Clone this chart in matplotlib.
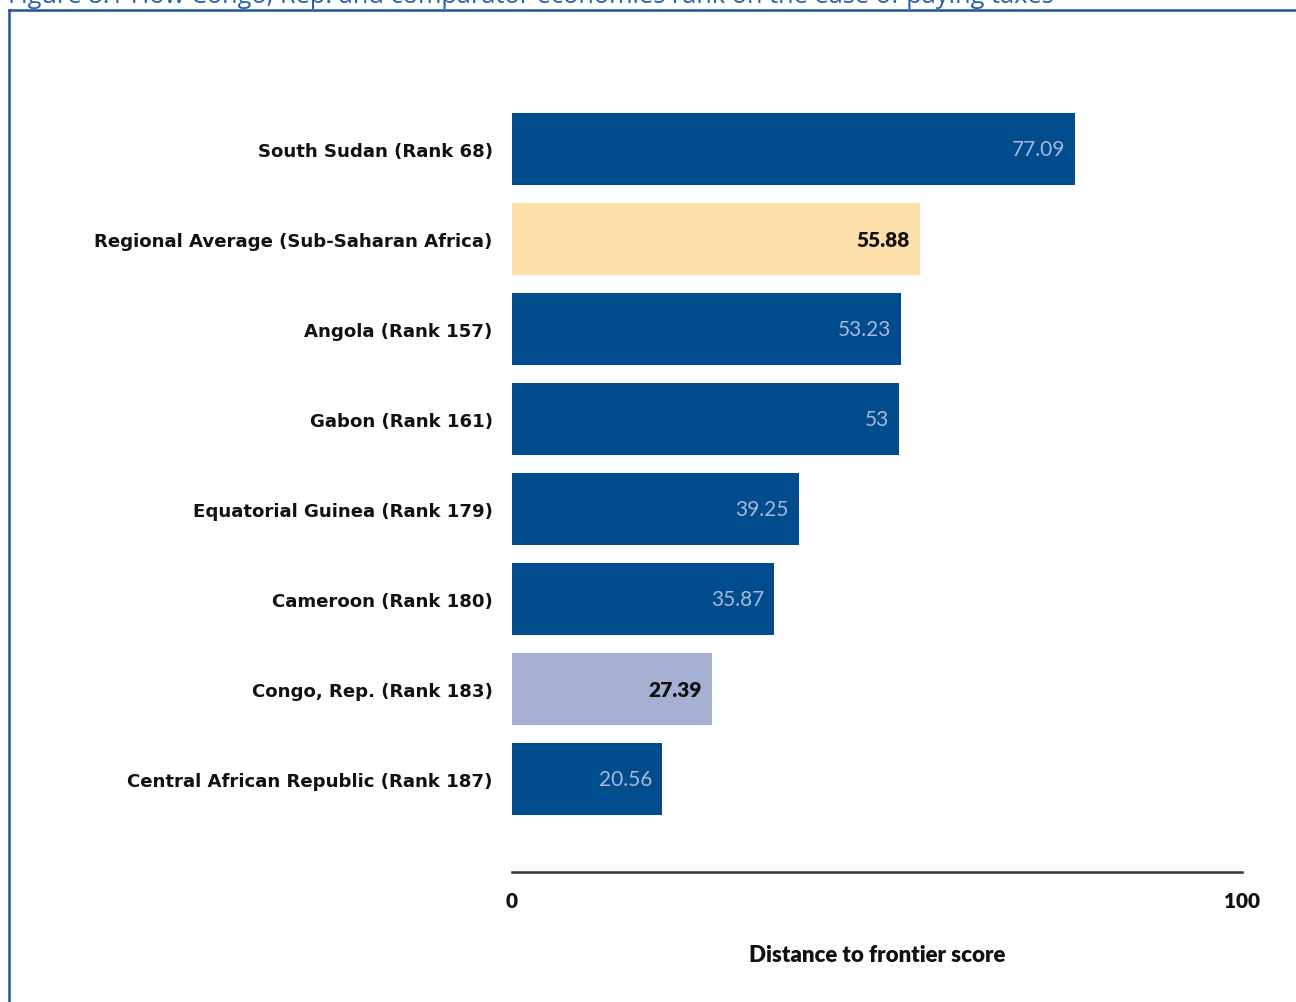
import matplotlib
matplotlib.use("Agg")
import matplotlib.pyplot as plt
from matplotlib.lines import Line2D

categories = [
    "South Sudan (Rank 68)",
    "Regional Average (Sub-Saharan Africa)",
    "Angola (Rank 157)",
    "Gabon (Rank 161)",
    "Equatorial Guinea (Rank 179)",
    "Cameroon (Rank 180)",
    "Congo, Rep. (Rank 183)",
    "Central African Republic (Rank 187)",
]
values = [77.09, 55.88, 53.23, 53.0, 39.25, 35.87, 27.39, 20.56]
value_labels = ["77.09", "55.88", "53.23", "53", "39.25", "35.87", "27.39", "20.56"]
kinds = ["economy", "regional", "economy", "economy", "economy", "economy", "focus", "economy"]
xticks = [0, 100]
xtick_labels = ["0", "100"]
title = "Figure 8.1 How Congo, Rep. and comparator economies rank on the ease of paying taxes"
xlabel = "Distance to frontier score"

colors = {"economy": "#004C8C", "regional": "#FDDFAA", "focus": "#A6B0D4"}
label_colors = {"economy": "#A9B8DA", "regional": "#111111", "focus": "#111111"}

W, H = 1296, 1003
fig = plt.figure(figsize=(W / 100, H / 100), dpi=100)

# Frame lines (top and left), blue
frame_col = "#1F5499"
fig.add_artist(Line2D([8.5 / W, 8.5 / W], [0, 1 - 11 / H], transform=fig.transFigure,
                      color=frame_col, lw=1.8))
fig.add_artist(Line2D([8.5 / W, 1], [1 - 11 / H, 1 - 11 / H], transform=fig.transFigure,
                      color=frame_col, lw=1.8))
# Cropped title at top (partly outside the figure, as in the reference)
fig.text(8 / W, 1 - 3 / H, title, color="#2A62A8", fontsize=18.3, family="Open Sans",
         ha="left", va="baseline")

left = 512 / W
right = 1242 / W
bottom = 1 - 873 / H
top = 1 - 60 / H
ax = fig.add_axes([left, bottom, right - left, top - bottom])

ypos = list(range(len(categories)))
bar_colors = [colors[k] for k in kinds]
ax.barh(ypos, values, height=0.81, color=bar_colors, edgecolor="none")
ax.set_xlim(0, 100)
ax.set_ylim(8.033, -1.0)

num_font = "Lato"
for y, v, lab, k in zip(ypos, values, value_labels, kinds):
    ax.annotate(lab, xy=(v, y), xytext=(-7, 0), textcoords="offset points",
                ha="right", va="center", fontsize=15, color=label_colors[k],
                family=num_font,
                fontweight="heavy" if k != "economy" else "normal")

ax.set_yticks(ypos)
ax.set_yticklabels(categories, fontsize=13.1, fontweight="bold", family="DejaVu Sans",
                   color="#111111")
ax.tick_params(axis="y", length=0, pad=14)

ax.set_xticks(xticks)
ax.set_xticklabels(xtick_labels, fontsize=15, fontweight="heavy",
                   family=num_font, color="#111111")
ax.tick_params(axis="x", length=0, pad=14)

for s in ["top", "right", "left"]:
    ax.spines[s].set_visible(False)
ax.spines["bottom"].set_color("#333333")
ax.spines["bottom"].set_linewidth(1.8)

ax.set_xlabel(xlabel, fontsize=16, fontweight="heavy", family=num_font,
              color="#111111", labelpad=24)

fig.savefig("out.png", dpi=100)
